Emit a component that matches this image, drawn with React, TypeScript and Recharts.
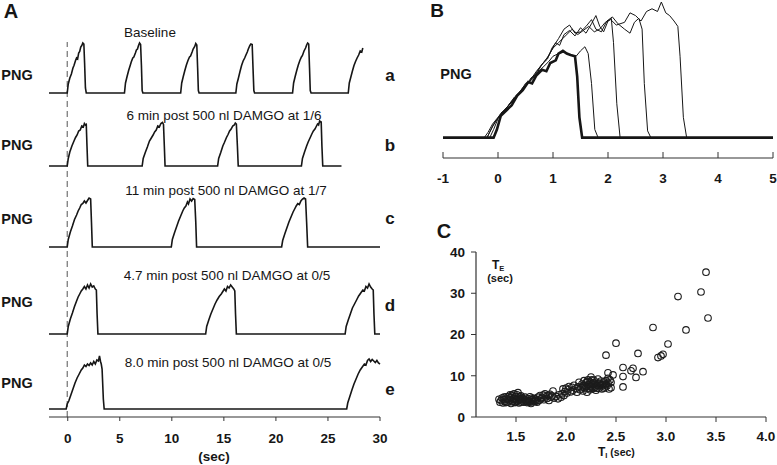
import React from 'react'
import { LineChart, Line, XAxis, YAxis, ScatterChart, Scatter } from 'recharts'

const FONT = '"Liberation Sans", Arial, sans-serif'
const INK = '#161616'

// Panel A: PNG traces, [time (s), amplitude]
const traceBaseline: [number, number][] = [
  [-1.8, 0], [-0.05, 0], [0.05, 0.18], [0.2, 0.3], [0.35, 0.38], [0.5, 0.5], [0.6, 0.55], [0.75, 0.65], [0.85, 0.7], [0.95, 0.68], [1.05, 0.8], [1.15, 0.83], [1.25, 0.92], [1.35, 0.95], [1.45, 1.0], [1.55, 0.98], [1.62, 0.6], [1.7, 0.1], [1.78, 0],
  [5.45, 0], [5.55, 0.2], [5.7, 0.33], [5.85, 0.45], [6.0, 0.55], [6.1, 0.62], [6.25, 0.7], [6.35, 0.72], [6.5, 0.8], [6.6, 0.86], [6.7, 0.88], [6.8, 0.95], [6.9, 1.0], [7.0, 0.97], [7.08, 0.55], [7.15, 0.05], [7.22, 0],
  [10.85, 0], [10.95, 0.2], [11.1, 0.33], [11.25, 0.45], [11.4, 0.56], [11.55, 0.65], [11.7, 0.72], [11.8, 0.74], [11.95, 0.82], [12.05, 0.88], [12.2, 0.93], [12.3, 0.99], [12.4, 0.96], [12.48, 0.5], [12.55, 0.05], [12.62, 0],
  [16.15, 0], [16.25, 0.18], [16.4, 0.3], [16.55, 0.43], [16.7, 0.55], [16.85, 0.64], [17.0, 0.7], [17.1, 0.75], [17.25, 0.82], [17.35, 0.88], [17.5, 0.95], [17.6, 0.98], [17.72, 0.97], [17.8, 0.5], [17.88, 0.05], [17.95, 0],
  [21.6, 0], [21.7, 0.2], [21.85, 0.33], [22.0, 0.45], [22.15, 0.56], [22.3, 0.65], [22.45, 0.72], [22.55, 0.75], [22.7, 0.84], [22.85, 0.9], [22.95, 0.96], [23.05, 1.0], [23.15, 0.98], [23.23, 0.5], [23.3, 0.05], [23.38, 0],
  [26.95, 0], [27.05, 0.2], [27.2, 0.32], [27.35, 0.44], [27.5, 0.55], [27.65, 0.63], [27.8, 0.7], [27.95, 0.76], [28.1, 0.84], [28.25, 0.82], [28.35, 0.9],
]

const trace6min: [number, number][] = [
  [-1.8, 0], [-0.05, 0], [0.05, 0.15], [0.2, 0.28], [0.4, 0.4], [0.6, 0.5], [0.75, 0.57], [0.9, 0.62], [1.05, 0.7], [1.2, 0.72], [1.35, 0.8], [1.5, 0.78], [1.6, 0.85], [1.7, 0.82], [1.78, 0.83], [1.85, 0.4], [1.92, 0],
  [7.15, 0], [7.25, 0.15], [7.45, 0.27], [7.65, 0.38], [7.85, 0.5], [8.0, 0.55], [8.2, 0.62], [8.35, 0.68], [8.5, 0.72], [8.65, 0.8], [8.8, 0.78], [8.95, 0.85], [9.1, 0.87], [9.2, 0.83], [9.28, 0.4], [9.35, 0],
  [14.4, 0], [14.5, 0.15], [14.7, 0.27], [14.9, 0.4], [15.05, 0.47], [15.25, 0.57], [15.4, 0.63], [15.55, 0.7], [15.7, 0.74], [15.85, 0.8], [16.0, 0.82], [16.1, 0.86], [16.2, 0.84], [16.3, 0.4], [16.38, 0],
  [22.45, 0], [22.55, 0.15], [22.75, 0.28], [22.95, 0.4], [23.1, 0.48], [23.3, 0.57], [23.45, 0.64], [23.6, 0.7], [23.75, 0.74], [23.9, 0.8], [24.0, 0.84], [24.1, 0.82], [24.2, 0.9], [24.35, 0.88], [24.42, 0.4], [24.5, 0],
  [26.3, 0],
]

const trace11min: [number, number][] = [
  [-1.8, 0], [-0.05, 0], [0.05, 0.15], [0.25, 0.3], [0.45, 0.42], [0.65, 0.55], [0.85, 0.64], [1.0, 0.72], [1.15, 0.78], [1.3, 0.85], [1.45, 0.87], [1.6, 0.92], [1.75, 0.88], [1.9, 0.93], [2.05, 0.98], [2.2, 0.96], [2.28, 0.5], [2.36, 0],
  [9.95, 0], [10.05, 0.15], [10.25, 0.28], [10.45, 0.4], [10.65, 0.52], [10.85, 0.62], [11.05, 0.72], [11.2, 0.78], [11.35, 0.82], [11.5, 0.9], [11.6, 0.86], [11.75, 0.96], [11.9, 0.92], [12.05, 0.97], [12.2, 0.95], [12.3, 0.5], [12.38, 0],
  [20.55, 0], [20.65, 0.13], [20.85, 0.26], [21.05, 0.38], [21.25, 0.5], [21.45, 0.6], [21.65, 0.7], [21.8, 0.76], [21.95, 0.82], [22.1, 0.87], [22.25, 0.85], [22.4, 0.92], [22.55, 0.96], [22.7, 0.98], [22.85, 0.96], [22.95, 0.5], [23.05, 0],
  [30, 0],
]

const trace4_7min: [number, number][] = [
  [-1.8, 0], [-0.05, 0], [0.05, 0.15], [0.25, 0.3], [0.45, 0.42], [0.65, 0.55], [0.85, 0.66], [1.0, 0.74], [1.15, 0.8], [1.3, 0.86], [1.45, 0.9], [1.6, 0.95], [1.75, 0.9], [1.9, 0.98], [2.05, 0.92], [2.2, 1.0], [2.35, 0.94], [2.5, 0.96], [2.65, 0.9], [2.75, 0.88], [2.82, 0.4], [2.9, 0],
  [13.25, 0], [13.35, 0.15], [13.55, 0.28], [13.75, 0.4], [13.95, 0.5], [14.15, 0.6], [14.35, 0.68], [14.55, 0.75], [14.75, 0.8], [14.9, 0.85], [15.05, 0.9], [15.2, 0.86], [15.35, 0.95], [15.5, 0.92], [15.65, 0.98], [15.8, 0.94], [15.95, 0.9], [16.05, 0.86], [16.12, 0.4], [16.2, 0],
  [26.65, 0], [26.75, 0.15], [26.95, 0.28], [27.15, 0.4], [27.35, 0.52], [27.55, 0.6], [27.75, 0.68], [27.95, 0.76], [28.15, 0.82], [28.35, 0.88], [28.5, 0.86], [28.65, 0.95], [28.8, 0.92], [28.95, 1.0], [29.1, 0.94], [29.25, 0.9], [29.35, 0.88], [29.42, 0.4], [29.5, 0],
  [30, 0],
]

const trace8min: [number, number][] = [
  [-1.8, 0], [-0.15, 0], [-0.05, 0.1], [0.1, 0.16], [0.3, 0.28], [0.5, 0.4], [0.7, 0.52], [0.9, 0.62], [1.1, 0.7], [1.3, 0.78], [1.45, 0.82], [1.6, 0.88], [1.75, 0.85], [1.9, 0.9], [2.05, 0.87], [2.2, 0.92], [2.35, 0.88], [2.5, 0.95], [2.65, 0.9], [2.8, 0.98], [2.95, 0.96], [3.05, 1.06], [3.15, 0.95], [3.22, 0.9], [3.3, 0.8], [3.42, 0.2], [3.5, 0],
  [26.8, 0], [26.9, 0.12], [27.1, 0.25], [27.3, 0.38], [27.5, 0.5], [27.7, 0.6], [27.9, 0.7], [28.1, 0.78], [28.3, 0.84], [28.5, 0.9], [28.65, 0.88], [28.8, 0.97], [28.95, 1.0], [29.1, 0.95], [29.25, 0.99], [29.4, 0.96], [29.55, 0.93], [29.7, 0.97], [29.85, 0.92], [30, 0.9],
]

// dashed onset marker at t = 0
const onsetMarker: [number, number][] = [[-0.05, 0], [-0.05, 1]]

const traceTitles = [
  'Baseline',
  '6 min post 500 nl DAMGO at 1/6',
  '11 min post 500 nl DAMGO at 1/7',
  '4.7 min post 500 nl DAMGO at 0/5',
  '8.0 min post 500 nl DAMGO at 0/5',
]
const traceLetters = ['a', 'b', 'c', 'd', 'e']
const timeTicks = [0, 5, 10, 15, 20, 25, 30]

// Panel B: overlaid single bursts aligned at onset
const burstShortest: [number, number][] = [
  [-1, 0], [-0.08, 0], [-0.02, 0.06], [0.05, 0.16], [0.15, 0.2], [0.25, 0.24], [0.35, 0.31], [0.45, 0.35], [0.55, 0.41], [0.62, 0.4], [0.7, 0.46], [0.8, 0.5], [0.88, 0.49], [0.95, 0.55], [1.05, 0.57], [1.1, 0.62], [1.18, 0.64], [1.25, 0.62], [1.32, 0.61], [1.4, 0.6], [1.44, 0.45], [1.48, 0.15], [1.53, 0], [5, 0],
]
const burstB: [number, number][] = [
  [-1, 0], [-0.15, 0], [-0.08, 0.06], [0, 0.14], [0.12, 0.2], [0.25, 0.27], [0.38, 0.32], [0.5, 0.4], [0.6, 0.42], [0.72, 0.48], [0.82, 0.52], [0.92, 0.56], [1.0, 0.6], [1.1, 0.62], [1.2, 0.63], [1.3, 0.61], [1.42, 0.6], [1.5, 0.64], [1.58, 0.67], [1.64, 0.62], [1.7, 0.4], [1.76, 0.06], [1.82, 0], [5, 0],
]
const burstC: [number, number][] = [
  [-1, 0], [-0.25, 0], [-0.18, 0.04], [-0.1, 0.1], [0, 0.15], [0.12, 0.2], [0.25, 0.27], [0.38, 0.33], [0.5, 0.38], [0.6, 0.44], [0.7, 0.47], [0.8, 0.54], [0.9, 0.58], [0.98, 0.66], [1.05, 0.7], [1.12, 0.68], [1.2, 0.76], [1.3, 0.79], [1.4, 0.75], [1.5, 0.81], [1.6, 0.77], [1.7, 0.84], [1.78, 0.9], [1.85, 0.82], [1.92, 0.78], [2.0, 0.86], [2.06, 0.88], [2.1, 0.7], [2.16, 0.25], [2.22, 0], [5, 0],
]
const burstD: [number, number][] = [
  [-1, 0], [-0.2, 0], [-0.1, 0.08], [0.05, 0.18], [0.18, 0.23], [0.3, 0.3], [0.45, 0.36], [0.58, 0.42], [0.7, 0.49], [0.82, 0.55], [0.92, 0.6], [1.02, 0.68], [1.1, 0.73], [1.2, 0.8], [1.3, 0.83], [1.4, 0.77], [1.5, 0.78], [1.6, 0.82], [1.7, 0.87], [1.78, 0.8], [1.88, 0.78], [1.98, 0.86], [2.08, 0.89], [2.18, 0.84], [2.3, 0.8], [2.4, 0.77], [2.48, 0.85], [2.56, 0.88], [2.62, 0.8], [2.66, 0.4], [2.72, 0.05], [2.78, 0], [5, 0],
]
const burstLongest: [number, number][] = [
  [-1, 0], [-0.2, 0], [-0.08, 0.1], [0.05, 0.17], [0.2, 0.24], [0.32, 0.29], [0.45, 0.37], [0.55, 0.4], [0.68, 0.47], [0.78, 0.53], [0.88, 0.58], [1.0, 0.66], [1.1, 0.7], [1.2, 0.74], [1.35, 0.8], [1.45, 0.76], [1.55, 0.79], [1.65, 0.82], [1.75, 0.78], [1.85, 0.8], [1.95, 0.85], [2.05, 0.87], [2.15, 0.83], [2.3, 0.85], [2.4, 0.92], [2.5, 0.9], [2.6, 0.86], [2.7, 0.93], [2.8, 0.95], [2.9, 0.93], [2.97, 1.0], [3.05, 0.92], [3.12, 0.9], [3.2, 0.86], [3.27, 0.82], [3.31, 0.6], [3.37, 0.15], [3.43, 0], [5, 0],
]
const burstTicks = [-1, 0, 1, 2, 3, 4, 5]

// Panel C: TI vs TE (sec)
const tiTe: [number, number][] = [
  [1.33, 4.3], [1.34, 3.6], [1.35, 4.0], [1.36, 4.6], [1.37, 3.4], [1.38, 4.2], [1.39, 3.8], [1.40, 4.9], [1.41, 4.4], [1.42, 3.6], [1.43, 5.0], [1.44, 4.1], [1.45, 3.3], [1.45, 4.7], [1.46, 5.3], [1.47, 3.9], [1.48, 4.5], [1.48, 5.6], [1.49, 3.5], [1.50, 4.2], [1.50, 5.0], [1.51, 3.8], [1.52, 4.6], [1.52, 5.9], [1.53, 3.4], [1.54, 4.3], [1.55, 5.1], [1.56, 3.9], [1.57, 4.5], [1.58, 3.6], [1.59, 4.8], [1.60, 4.1], [1.61, 3.5], [1.62, 4.4], [1.63, 3.8], [1.64, 4.9], [1.65, 3.3], [1.66, 4.2], [1.67, 3.7], [1.68, 4.5], [1.69, 3.9], [1.70, 4.3], [1.71, 3.6], [1.72, 4.8], [1.73, 4.0], [1.74, 5.2], [1.75, 4.4],
  [1.38, 4.8], [1.40, 3.5], [1.42, 4.3], [1.44, 5.4], [1.46, 3.7], [1.47, 4.4], [1.49, 4.9], [1.50, 3.6], [1.51, 5.4], [1.53, 4.0], [1.54, 4.9], [1.55, 3.6], [1.56, 4.6], [1.58, 4.2], [1.60, 3.8], [1.62, 4.0], [1.64, 3.6], [1.66, 4.6], [1.68, 4.0], [1.70, 3.8],
  [1.76, 4.7], [1.77, 5.3], [1.78, 4.2], [1.79, 5.6], [1.80, 4.9], [1.81, 4.5], [1.82, 5.2], [1.83, 4.0], [1.84, 5.5], [1.85, 4.8], [1.86, 5.1], [1.87, 6.3], [1.88, 4.6], [1.90, 5.0], [1.92, 4.4], [1.93, 5.4], [1.95, 4.8],
  [1.96, 5.6], [1.97, 6.8], [1.98, 5.2], [1.99, 6.2], [2.00, 7.0], [2.01, 5.8], [2.02, 6.6], [2.03, 7.4], [2.05, 6.1], [2.06, 7.2], [2.07, 6.5], [2.08, 7.7], [2.10, 6.9], [2.11, 6.0], [2.12, 7.3], [2.13, 8.4], [2.14, 6.6],
  [2.15, 7.1], [2.16, 8.0], [2.17, 6.3], [2.17, 7.6], [2.18, 8.8], [2.19, 6.9], [2.20, 7.4], [2.20, 8.3], [2.21, 6.0], [2.22, 7.8], [2.22, 9.0], [2.23, 7.0], [2.24, 8.5], [2.24, 6.6], [2.25, 7.5], [2.25, 9.7], [2.26, 8.1], [2.27, 6.9], [2.27, 7.8], [2.28, 8.9], [2.29, 7.2], [2.30, 8.4], [2.30, 6.5], [2.31, 7.7], [2.32, 9.2], [2.33, 7.0], [2.33, 8.2], [2.34, 7.6], [2.35, 8.7], [2.36, 6.8], [2.37, 7.9], [2.38, 8.5], [2.39, 7.3], [2.40, 8.8], [2.41, 7.6], [2.42, 8.2], [2.43, 6.8], [2.44, 9.0], [2.45, 8.4],
  [2.18, 7.2], [2.21, 8.6], [2.23, 7.7], [2.26, 7.3], [2.28, 8.2], [2.31, 7.0], [2.34, 8.0], [2.36, 7.6], [2.38, 7.0], [2.40, 7.9], [2.26, 9.0], [2.42, 9.4],
  [2.40, 15.0], [2.50, 17.9], [2.42, 10.7], [2.47, 10.2], [2.45, 7.1], [2.57, 12.0], [2.57, 9.8], [2.57, 7.3], [2.65, 11.2], [2.67, 11.8], [2.70, 9.6], [2.72, 15.4], [2.77, 11.0], [2.87, 21.7], [2.92, 14.4], [2.95, 14.8], [2.97, 15.2], [3.02, 17.7], [3.12, 29.2], [3.20, 21.1], [3.35, 30.3], [3.40, 35.1], [3.42, 24.0],
]
const tiTicks = [1.5, 2.0, 2.5, 3.0, 3.5, 4.0]
const teTicks = [0, 10, 20, 30, 40]

const toRows = (pts: [number, number][]) => pts.map(([t, v]) => ({ t, v }))

const tickStyle = { fill: INK, fontSize: 13.5, fontWeight: 700, fontFamily: FONT }

function Txt({
  x, y, size, bold = false, children,
}: { x: number; y: number; size: number; bold?: boolean; children: React.ReactNode }) {
  return (
    <div
      style={{
        position: 'absolute', left: x, top: y, transform: 'translate(-50%, -50%)',
        fontFamily: FONT, fontSize: size, fontWeight: bold ? 700 : 400, color: INK,
        whiteSpace: 'nowrap', lineHeight: 1,
      }}
    >
      {children}
    </div>
  )
}

/** One PNG sweep of panel A; baseline is the page y of the zero level. */
function TraceRow({ points, baseline }: { points: [number, number][]; baseline: number }) {
  return (
    <div style={{ position: 'absolute', left: 0, top: baseline - 60 }}>
      <LineChart width={400} height={65} data={toRows(points)} margin={{ top: 5, right: 20, bottom: 5, left: 49 }}>
        <XAxis type="number" dataKey="t" domain={[-1.8, 30]} hide />
        <YAxis type="number" domain={[0, 1.1]} hide />
        <Line type="linear" dataKey="v" stroke={INK} strokeWidth={1.6} dot={false} isAnimationActive={false} />
      </LineChart>
    </div>
  )
}

const rowBaselines = [93, 166, 247, 334, 409]
const rowTraces = [traceBaseline, trace6min, trace11min, trace4_7min, trace8min]
const titleY = [33, 116, 191, 276, 363]
const titleX = [150, 224, 226, 227, 228]
const pngY = [75, 145, 219, 302, 383]
const letterY = [75, 145, 218, 305, 389]

export default function App() {
  return (
    <div style={{ position: 'relative', width: 777, height: 465, background: '#fff', overflow: 'hidden' }}>
      <style>{'body{margin:0}'}</style>

      {/* Panel A: shared time axis + onset marker */}
      <div style={{ position: 'absolute', left: 0, top: 0 }}>
        <LineChart width={400} height={465} data={toRows(onsetMarker)} margin={{ top: 42, right: 20, bottom: 18, left: 49 }}>
          <XAxis
            type="number" dataKey="t" domain={[-1.8, 30]} ticks={timeTicks} height={30}
            tick={tickStyle} tickSize={4} tickMargin={12}
            axisLine={{ stroke: '#333', strokeWidth: 1.2 }} tickLine={{ stroke: '#333' }}
          />
          <YAxis type="number" domain={[0, 1]} hide />
          <Line type="linear" dataKey="v" stroke="#555" strokeWidth={1} strokeDasharray="6 4" dot={false} isAnimationActive={false} />
        </LineChart>
      </div>
      {rowTraces.map((pts, i) => (
        <TraceRow key={i} points={pts} baseline={rowBaselines[i]} />
      ))}
      <Txt x={11} y={11} size={20} bold>A</Txt>
      {traceTitles.map((s, i) => (
        <Txt key={s} x={titleX[i]} y={titleY[i]} size={13.5}>{s}</Txt>
      ))}
      {pngY.map((y, i) => (
        <Txt key={i} x={17} y={y} size={14.5} bold>PNG</Txt>
      ))}
      {traceLetters.map((s, i) => (
        <Txt key={s} x={390} y={letterY[i]} size={17} bold>{s}</Txt>
      ))}
      <Txt x={214} y={457} size={13.5} bold>(sec)</Txt>

      {/* Panel B: overlaid bursts */}
      <div style={{ position: 'absolute', left: 430, top: 0 }}>
        <LineChart width={347} height={190} margin={{ top: 2, right: 4, bottom: 2, left: 13 }}>
          <XAxis
            type="number" dataKey="t" domain={[-1, 5]} ticks={burstTicks} height={30}
            allowDuplicatedCategory={false}
            tick={tickStyle} tickSize={-6} tickMargin={21}
            axisLine={{ stroke: '#333', strokeWidth: 1.2 }} tickLine={{ stroke: '#333' }}
          />
          <YAxis type="number" domain={[-0.15, 1]} hide />
          {[burstLongest, burstD, burstC, burstB].map((pts, i) => (
            <Line key={i} data={toRows(pts)} type="linear" dataKey="v" stroke={INK} strokeWidth={1} dot={false} isAnimationActive={false} />
          ))}
          <Line data={toRows(burstShortest)} type="linear" dataKey="v" stroke={INK} strokeWidth={2.6} dot={false} isAnimationActive={false} />
        </LineChart>
      </div>
      <Txt x={437} y={10} size={19} bold>B</Txt>
      <Txt x={456} y={74} size={14.5} bold>PNG</Txt>

      {/* Panel C: TE vs TI */}
      <div style={{ position: 'absolute', left: 430, top: 240 }}>
        <ScatterChart width={347} height={225} margin={{ top: 12, right: 11, bottom: 18, left: 6 }}>
          <XAxis
            type="number" dataKey="x" domain={[1.1, 4]} ticks={tiTicks} height={30}
            tickFormatter={(v: number) => v.toFixed(1)}
            tick={tickStyle} tickSize={5} tickMargin={9}
            axisLine={{ stroke: '#333', strokeWidth: 1.2 }} tickLine={{ stroke: '#333' }}
          />
          <YAxis
            type="number" dataKey="y" domain={[0, 40]} ticks={teTicks} width={40}
            tick={tickStyle} tickSize={5} tickMargin={6}
            axisLine={{ stroke: '#333', strokeWidth: 1.2 }} tickLine={{ stroke: '#333' }}
          />
          <Scatter
            data={tiTe.map(([x, y]) => ({ x, y }))}
            isAnimationActive={false}
            shape={(p: any) => <circle cx={p.cx} cy={p.cy} r={3.3} fill="none" stroke="#1c1c1c" strokeWidth={1.1} />}
          />
        </ScatterChart>
      </div>
      <Txt x={444} y={231} size={20} bold>C</Txt>
      <div style={{ position: 'absolute', left: 492, top: 259, fontFamily: FONT, fontWeight: 700, fontSize: 12, color: INK, lineHeight: '12px', whiteSpace: 'nowrap' }}>
        T<span style={{ fontSize: 7.5, verticalAlign: -2 }}>E</span>
      </div>
      <Txt x={500} y={278} size={11} bold>(sec)</Txt>
      <div style={{ position: 'absolute', left: 598, top: 446, fontFamily: FONT, fontWeight: 700, fontSize: 12, color: INK, lineHeight: '12px', whiteSpace: 'nowrap' }}>
        T<span style={{ fontSize: 7.5, verticalAlign: -2 }}>I</span>
        <span style={{ fontSize: 10.5 }}> (sec)</span>
      </div>
    </div>
  )
}
